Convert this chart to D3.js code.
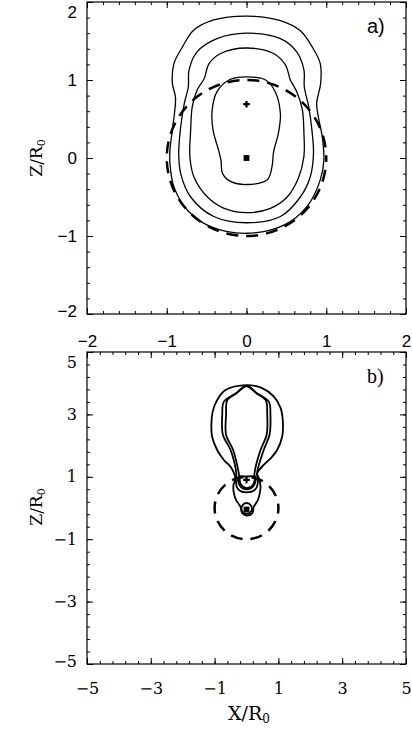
<html>
<head>
	<meta charset="utf-8">
	<script src="https://d3js.org/d3.v7.min.js"></script>
	<style>
		body { margin: 0; background: #fff; }
	</style>
</head>
<body>
	<div id="output"></div>
	<script>
		// ---- panel a) : contour lines, [x, z] in units of R0 ----
		var contourA1 = [[0,1.82],[0.425,1.76],[0.675,1.63],[0.82,1.43],[0.925,1.21],[0.93,0.96],[0.88,0.70],[0.90,0.53],[0.95,0.27],[0.97,-0.03],[0.925,-0.28],[0.76,-0.62],[0.47,-0.86],[0,-0.965],[-0.45,-0.88],[-0.74,-0.67],[-0.91,-0.37],[-0.96,-0.07],[-0.96,0.10],[-0.93,0.36],[-0.89,0.77],[-0.93,0.96],[-0.91,1.21],[-0.80,1.43],[-0.66,1.64],[-0.41,1.77]];
		var contourA2 = [[0,1.60],[0.425,1.53],[0.63,1.36],[0.72,1.13],[0.725,0.91],[0.78,0.66],[0.82,0.36],[0.84,0.06],[0.80,-0.24],[0.675,-0.50],[0.425,-0.75],[0,-0.83],[-0.41,-0.75],[-0.70,-0.50],[-0.825,-0.20],[-0.85,0.06],[-0.825,0.40],[-0.78,0.70],[-0.73,0.91],[-0.72,1.13],[-0.62,1.36],[-0.37,1.53]];
		var contourA3 = [[0,1.41],[0.34,1.34],[0.49,1.19],[0.55,1.0],[0.63,0.85],[0.70,0.62],[0.72,0.32],[0.72,0.02],[0.65,-0.26],[0.51,-0.50],[0.30,-0.645],[0,-0.70],[-0.28,-0.645],[-0.49,-0.50],[-0.66,-0.24],[-0.71,0.02],[-0.70,0.36],[-0.68,0.66],[-0.62,0.87],[-0.53,1.02],[-0.47,1.21],[-0.325,1.34]];
		var contourA4 = [[0,1.04],[0.24,1.0],[0.36,0.85],[0.425,0.57],[0.40,0.32],[0.34,0.08],[0.32,-0.11],[0.26,-0.28],[0,-0.34],[-0.20,-0.30],[-0.30,-0.20],[-0.32,-0.03],[-0.35,0.10],[-0.42,0.36],[-0.43,0.62],[-0.37,0.85],[-0.22,1.0]];
		var markersA = [[0,0.69],[0,0]];

		// ---- panel b) ----
		var contourB1 = [[0,3.94],[0.49,3.84],[0.86,3.57],[1.07,3.2],[1.14,2.77],[1.12,2.29],[0.96,1.86],[0.80,1.64],[0.54,1.38],[0.335,1.11],[0.40,0.92],[0.44,0.70],[0.42,0.50],[0.36,0.26],[0.23,0.04],[0.18,-0.17],[0,-0.24],[-0.135,-0.17],[-0.19,0.04],[-0.33,0.26],[-0.40,0.50],[-0.41,0.72],[-0.35,0.95],[-0.5,1.32],[-0.71,1.54],[-0.92,1.86],[-1.08,2.29],[-1.10,2.71],[-1.06,3.09],[-0.92,3.46],[-0.66,3.78]];
		var contourB2 = [[0,3.91],[0.35,3.66],[0.70,3.41],[0.75,2.98],[0.72,2.34],[0.54,1.86],[0.33,1.11],[0.36,0.88],[0.32,0.66],[0.20,0.54],[0,0.50],[-0.19,0.54],[-0.30,0.66],[-0.33,0.88],[-0.32,1.11],[-0.5,1.86],[-0.74,2.34],[-0.76,2.98],[-0.71,3.41],[-0.355,3.66]];
		var contourB3 = [[0,3.91],[0.3,3.685],[0.6,3.46],[0.65,2.98],[0.63,2.34],[0.44,1.86],[0.25,1.11],[0.26,0.96],[0.23,0.79],[0.125,0.67],[0,0.64],[-0.09,0.67],[-0.19,0.79],[-0.22,0.96],[-0.24,1.11],[-0.42,1.86],[-0.64,2.34],[-0.64,2.98],[-0.6,3.46],[-0.3,3.685]];
		var contourB4 = [[-0.25,1.0],[-0.24,0.78],[-0.13,0.63],[0,0.60],[0.14,0.63],[0.26,0.78],[0.27,1.0],[0,1.01]];
		var contourB5 = [[0,0.16],[0.14,0.08],[0.15,-0.1],[0,-0.19],[-0.14,-0.1],[-0.13,0.08]];
		var markersB = [[0,0.9],[0,-0.05]];

		var circleRadius = 1;

		// axis ticks
		var majorA = [-2,-1,0,1,2];
		var minorA = d3.range(-20,21,2).map(function(d){ return d/10; });
		var majorB = [-5,-3,-1,1,3,5];
		var minorB = d3.range(-50,51,4).map(function(d){ return d/10; });

		var svg = d3.select("#output")
			.append("svg")
			.attr("width", 412)
			.attr("height", 729);

		var line = d3.line().curve(d3.curveCatmullRomClosed.alpha(0.5));

		drawPanel({
			top: 2, bottom: 314, left: 87, right: 406,
			domain: [-2,2], major: majorA, minor: minorA,
			tickFont: "Liberation Sans, Arial, sans-serif", tickSize: 17, padX: 21,
			contours: [contourA1, contourA2, contourA3, contourA4], width: 1.3,
			markers: markersA, dashOffset: 8,
			label: "a)", labelFont: "Liberation Sans, Arial, sans-serif"
		});
		drawPanel({
			top: 352, bottom: 664, left: 87, right: 406,
			domain: [-5,5], major: majorB, minor: minorB,
			tickFont: "DejaVu Serif, serif", tickSize: 16, padX: 19,
			contours: [contourB1, contourB2, contourB3, contourB4, contourB5], width: 1.8,
			markers: markersB, dashOffset: 6.5,
			label: "b)", labelFont: "Liberation Serif, serif"
		});

		// axis titles
		yTitle(158);
		yTitle(507);
		var xt = svg.append("text")
			.attr("x", 249)
			.attr("y", 720)
			.style("font-family", "DejaVu Serif, serif")
			.style("font-size", "19px")
			.style("text-anchor", "middle")
			.text("X/R");
		xt.append("tspan").attr("dy", 3).style("font-size", "12px").text("0");

		function yTitle(cy){
			var t = svg.append("text")
				.attr("transform", "translate(42," + cy + ") rotate(-90)")
				.style("font-family", "DejaVu Serif, serif")
				.style("font-size", "17px")
				.style("text-anchor", "middle")
				.text("Z/R");
			t.append("tspan").attr("dy", 3).style("font-size", "11px").text("0");
		}

		function drawPanel(p){
			var x = d3.scaleLinear().domain(p.domain).range([p.left, p.right]);
			var y = d3.scaleLinear().domain(p.domain).range([p.bottom, p.top]);
			var g = svg.append("g");

			// ticks, inward on all sides
			function ax(axis, tr, vals, size, labels){
				var a = axis.tickValues(vals).tickSize(size).tickSizeOuter(0);
				if (!labels) a.tickFormat("");
				var s = g.append("g").attr("transform", tr).call(a);
				s.select(".domain").remove();
				s.selectAll("line").attr("stroke", "#000");
				s.selectAll("text")
					.attr("fill", "#000")
					.style("font-family", p.tickFont)
					.style("font-size", p.tickSize + "px");
				return s;
			}
			ax(d3.axisBottom(x).tickPadding(p.padX).tickFormat(d3.format("d")), "translate(0," + p.bottom + ")", p.major, -6, true);
			ax(d3.axisBottom(x), "translate(0," + p.bottom + ")", p.minor, -3, false);
			ax(d3.axisTop(x), "translate(0," + p.top + ")", p.major, -6, false);
			ax(d3.axisTop(x), "translate(0," + p.top + ")", p.minor, -3, false);
			var left = ax(d3.axisLeft(y).tickPadding(10).tickFormat(d3.format("d")), "translate(" + p.left + ",0)", p.major, -6, true);
			// end labels are pulled inside the frame, as in the original
			left.selectAll("text").attr("y", function(d){
				if (d === p.domain[1]) return 10.5;
				if (d === p.domain[0]) return -3;
				return 0;
			});
			ax(d3.axisLeft(y), "translate(" + p.left + ",0)", p.minor, -3, false);
			ax(d3.axisRight(y), "translate(" + p.right + ",0)", p.major, -6, false);
			ax(d3.axisRight(y), "translate(" + p.right + ",0)", p.minor, -3, false);

			g.append("rect")
				.attr("x", p.left)
				.attr("y", p.top)
				.attr("width", p.right - p.left)
				.attr("height", p.bottom - p.top)
				.attr("fill", "none")
				.attr("stroke", "#000")
				.attr("stroke-width", 1.2);

			// dashed unit circle
			g.append("ellipse")
				.attr("cx", x(0))
				.attr("cy", y(0))
				.attr("rx", x(circleRadius) - x(0))
				.attr("ry", y(0) - y(circleRadius))
				.attr("fill", "none")
				.attr("stroke", "#000")
				.attr("stroke-width", 2.5)
				.attr("stroke-dasharray", "12,8")
				.attr("stroke-dashoffset", p.dashOffset);

			// contours
			p.contours.forEach(function(c){
				g.append("path")
					.attr("d", line(c.map(function(d){ return [x(d[0]), y(d[1])]; })))
					.attr("fill", "none")
					.attr("stroke", "#000")
					.attr("stroke-width", p.width)
					.attr("stroke-linejoin", "round");
			});

			// source positions
			g.append("path")
				.attr("transform", "translate(" + x(p.markers[0][0]) + "," + y(p.markers[0][1]) + ")")
				.attr("d", d3.symbol().type(d3.symbolCross).size(24)())
				.attr("fill", "#000");
			g.append("path")
				.attr("transform", "translate(" + x(p.markers[1][0]) + "," + y(p.markers[1][1]) + ")")
				.attr("d", d3.symbol().type(d3.symbolSquare).size(34)())
				.attr("fill", "#000");

			g.append("text")
				.attr("x", 367)
				.attr("y", p.top + 31)
				.style("font-family", p.labelFont)
				.style("font-size", "20px")
				.text(p.label);
		}
	</script>
</body>
</html>
